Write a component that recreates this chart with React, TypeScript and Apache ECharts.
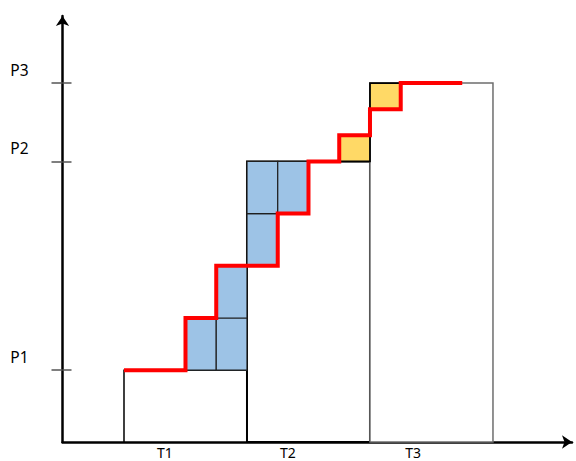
import React, { useEffect, useRef } from 'react';
import * as echarts from 'echarts';

const periods = ['T1', 'T2', 'T3'];
const periodLabelX = [3.33, 7.33, 11.4];
const priceLabels = ['P1', 'P2', 'P3'];
const priceLevels = [2.75, 10.75, 13.75];
const boxStart = [2, 6, 10];
const boxEnd = [6, 10, 14];
const boxTop = [2.75, 10.75, 13.75];
const boxStroke = ['#000000', '#000000', '#6e6e6e'];
const boxWidth = [1.5, 2, 1.5];
// [xStart, xEnd, yBottom, yTop]
const blueCells = [
  [4, 5, 2.75, 4.75],
  [5, 6, 2.75, 4.75],
  [5, 6, 4.75, 6.75],
  [6, 7, 6.75, 8.75],
  [6, 7, 8.75, 10.75],
  [7, 8, 8.75, 10.75],
];
const yellowCells = [
  [9, 10, 10.75, 11.75],
  [10, 11, 12.75, 13.75],
];
const redStepX = [2, 4, 4, 5, 5, 7, 7, 8, 8, 9, 9, 10, 10, 11, 11, 13];
const redStepY = [2.75, 2.75, 4.75, 4.75, 6.75, 6.75, 8.75, 8.75, 10.75, 10.75, 11.75, 11.75, 12.75, 12.75, 13.75, 13.75];

const FONT = 'Noto Sans';

function rectItem(api: any, fill: string, stroke: string, lw: number) {
  const p0 = api.coord([api.value(0), api.value(3)]);
  const p1 = api.coord([api.value(1), api.value(2)]);
  return {
    type: 'rect',
    shape: { x: p0[0], y: p0[1], width: p1[0] - p0[0], height: p1[1] - p0[1] },
    style: { fill, stroke, lineWidth: lw },
  };
}

export default function App() {
  const ref = useRef<HTMLDivElement>(null);
  useEffect(() => {
    document.body.style.margin = '0';
    const chart = echarts.init(ref.current!, null, { renderer: 'svg' });
    const option: any = {
      animation: false,
      grid: { left: 62.5, top: 16, width: 509.5, height: 426, containLabel: false },
      xAxis: {
        type: 'value',
        min: 0,
        max: 16.57,
        axisLine: {
          show: true,
          symbol: ['none', 'arrow'],
          symbolSize: [10, 10],
          lineStyle: { color: '#000', width: 2.5 },
        },
        axisTick: { show: false },
        splitLine: { show: false },
        axisLabel: {
          customValues: periodLabelX,
          formatter: (v: number) => {
            const i = periodLabelX.findIndex((p) => Math.abs(p - v) < 1e-6);
            return i >= 0 ? periods[i] : '';
          },
          margin: 3,
          lineHeight: 15,
          color: '#000',
          fontFamily: FONT,
          fontSize: 14,
        },
      },
      yAxis: [
        {
          type: 'value',
          min: 0,
          max: 16.32,
          axisLine: {
            show: true,
            symbol: ['none', 'arrow'],
            symbolSize: [10, 10],
            lineStyle: { color: '#000', width: 2.5 },
          },
          axisTick: {
            show: true,
            customValues: priceLevels,
            length: 11,
            lineStyle: { color: '#555', width: 1.5 },
          },
          splitLine: { show: false },
          axisLabel: {
            customValues: priceLevels,
            formatter: (v: number) => {
              const i = priceLevels.findIndex((p) => Math.abs(p - v) < 1e-6);
              return i >= 0 ? priceLabels[i] : '';
            },
            margin: 34,
            align: 'right',
            verticalAlign: 'bottom',
            padding: [0, 0, 5, 0],
            color: '#000',
            fontFamily: FONT,
            fontSize: 15.5,
          },
        },
        {
          type: 'value',
          min: 0,
          max: 16.32,
          position: 'left',
          axisLine: { show: false },
          axisTick: {
            show: true,
            inside: true,
            customValues: priceLevels,
            length: 9,
            lineStyle: { color: '#555', width: 1.5 },
          },
          axisLabel: { show: false },
          splitLine: { show: false },
        },
      ],
      series: [
        {
          type: 'custom',
          z: 2,
          data: boxStart.map((s, i) => [s, boxEnd[i], 0, boxTop[i], i]),
          renderItem: (params: any, api: any) => {
            const i = api.value(4);
            return rectItem(api, '#ffffff', boxStroke[i], boxWidth[i]);
          },
        },
        {
          type: 'custom',
          z: 3,
          data: blueCells,
          renderItem: (params: any, api: any) => rectItem(api, '#9DC3E6', '#1f1f1f', 1.2),
        },
        {
          type: 'custom',
          z: 3,
          data: yellowCells,
          renderItem: (params: any, api: any) => rectItem(api, '#FFD966', '#000000', 1.8),
        },
        {
          type: 'line',
          z: 10,
          data: redStepX.map((x, i) => [x, redStepY[i]]),
          symbol: 'none',
          lineStyle: { color: '#FF0000', width: 4, join: 'miter' },
        },
      ],
    };
    chart.setOption(option);
    return () => chart.dispose();
  }, []);
  return <div ref={ref} style={{ width: 576, height: 461 }} />;
}
